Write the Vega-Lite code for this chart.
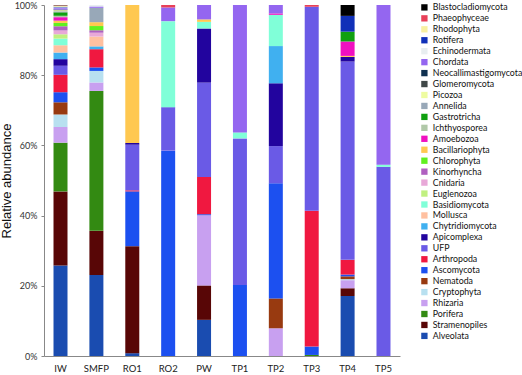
{
  "$schema": "https://vega.github.io/schema/vega-lite/v6.json",
  "autosize": {"type": "none"},
  "width": 356,
  "height": 351,
  "padding": {"left": 44, "top": 5, "right": 122, "bottom": 19},
  "background": "white",
  "datasets": {
    "taxa": [
      {"taxon": "Alveolata", "rank": 0},
      {"taxon": "Stramenopiles", "rank": 1},
      {"taxon": "Porifera", "rank": 2},
      {"taxon": "Rhizaria", "rank": 3},
      {"taxon": "Cryptophyta", "rank": 4},
      {"taxon": "Nematoda", "rank": 5},
      {"taxon": "Ascomycota", "rank": 6},
      {"taxon": "Arthropoda", "rank": 7},
      {"taxon": "UFP", "rank": 8},
      {"taxon": "Apicomplexa", "rank": 9},
      {"taxon": "Chytridiomycota", "rank": 10},
      {"taxon": "Mollusca", "rank": 11},
      {"taxon": "Basidiomycota", "rank": 12},
      {"taxon": "Euglenozoa", "rank": 13},
      {"taxon": "Cnidaria", "rank": 14},
      {"taxon": "Kinorhyncha", "rank": 15},
      {"taxon": "Chlorophyta", "rank": 16},
      {"taxon": "Bacillariophyta", "rank": 17},
      {"taxon": "Amoebozoa", "rank": 18},
      {"taxon": "Ichthyosporea", "rank": 19},
      {"taxon": "Gastrotricha", "rank": 20},
      {"taxon": "Annelida", "rank": 21},
      {"taxon": "Picozoa", "rank": 22},
      {"taxon": "Glomeromycota", "rank": 23},
      {"taxon": "Neocallimastigomycota", "rank": 24},
      {"taxon": "Chordata", "rank": 25},
      {"taxon": "Echinodermata", "rank": 26},
      {"taxon": "Rotifera", "rank": 27},
      {"taxon": "Rhodophyta", "rank": 28},
      {"taxon": "Phaeophyceae", "rank": 29},
      {"taxon": "Blastocladiomycota", "rank": 30}
    ],
    "abund": [
      {"site": "IW", "taxon": "Alveolata", "value": 26.0},
      {"site": "IW", "taxon": "Stramenopiles", "value": 21.3},
      {"site": "IW", "taxon": "Porifera", "value": 14.0},
      {"site": "IW", "taxon": "Rhizaria", "value": 4.5},
      {"site": "IW", "taxon": "Cryptophyta", "value": 3.6},
      {"site": "IW", "taxon": "Nematoda", "value": 3.5},
      {"site": "IW", "taxon": "Ascomycota", "value": 2.9},
      {"site": "IW", "taxon": "Arthropoda", "value": 5.0},
      {"site": "IW", "taxon": "UFP", "value": 2.6},
      {"site": "IW", "taxon": "Apicomplexa", "value": 1.9},
      {"site": "IW", "taxon": "Chytridiomycota", "value": 1.9},
      {"site": "IW", "taxon": "Mollusca", "value": 2.1},
      {"site": "IW", "taxon": "Basidiomycota", "value": 1.9},
      {"site": "IW", "taxon": "Euglenozoa", "value": 1.25},
      {"site": "IW", "taxon": "Cnidaria", "value": 1.1},
      {"site": "IW", "taxon": "Kinorhyncha", "value": 1.2},
      {"site": "IW", "taxon": "Chlorophyta", "value": 0.95},
      {"site": "IW", "taxon": "Bacillariophyta", "value": 0.66},
      {"site": "IW", "taxon": "Amoebozoa", "value": 1.0},
      {"site": "IW", "taxon": "Ichthyosporea", "value": 0.4},
      {"site": "IW", "taxon": "Gastrotricha", "value": 1.0},
      {"site": "IW", "taxon": "Annelida", "value": 0.3},
      {"site": "IW", "taxon": "Picozoa", "value": 0.3},
      {"site": "IW", "taxon": "Glomeromycota", "value": 0.1},
      {"site": "IW", "taxon": "Neocallimastigomycota", "value": 0.1},
      {"site": "IW", "taxon": "Chordata", "value": 0.4},
      {"site": "IW", "taxon": "Echinodermata", "value": 0.2},
      {"site": "IW", "taxon": "Rotifera", "value": 0.2},
      {"site": "IW", "taxon": "Rhodophyta", "value": 0.3},
      {"site": "IW", "taxon": "Phaeophyceae", "value": 0.1},
      {"site": "IW", "taxon": "Blastocladiomycota", "value": 0.1},
      {"site": "SMFP", "taxon": "Alveolata", "value": 23.1},
      {"site": "SMFP", "taxon": "Stramenopiles", "value": 12.6},
      {"site": "SMFP", "taxon": "Porifera", "value": 39.9},
      {"site": "SMFP", "taxon": "Rhizaria", "value": 2.4},
      {"site": "SMFP", "taxon": "Cryptophyta", "value": 3.3},
      {"site": "SMFP", "taxon": "Ascomycota", "value": 1.0},
      {"site": "SMFP", "taxon": "Arthropoda", "value": 5.2},
      {"site": "SMFP", "taxon": "Chytridiomycota", "value": 0.8},
      {"site": "SMFP", "taxon": "Mollusca", "value": 2.8},
      {"site": "SMFP", "taxon": "Cnidaria", "value": 1.1},
      {"site": "SMFP", "taxon": "Kinorhyncha", "value": 0.7},
      {"site": "SMFP", "taxon": "Chlorophyta", "value": 1.2},
      {"site": "SMFP", "taxon": "Bacillariophyta", "value": 1.1},
      {"site": "SMFP", "taxon": "Annelida", "value": 4.1},
      {"site": "SMFP", "taxon": "Echinodermata", "value": 0.5},
      {"site": "SMFP", "taxon": "Chordata", "value": 0.3},
      {"site": "RO1", "taxon": "Alveolata", "value": 0.8},
      {"site": "RO1", "taxon": "Stramenopiles", "value": 30.5},
      {"site": "RO1", "taxon": "Ascomycota", "value": 15.6},
      {"site": "RO1", "taxon": "Arthropoda", "value": 0.3},
      {"site": "RO1", "taxon": "UFP", "value": 13.0},
      {"site": "RO1", "taxon": "Apicomplexa", "value": 0.5},
      {"site": "RO1", "taxon": "Bacillariophyta", "value": 39.3},
      {"site": "RO2", "taxon": "Ascomycota", "value": 58.5},
      {"site": "RO2", "taxon": "UFP", "value": 12.4},
      {"site": "RO2", "taxon": "Basidiomycota", "value": 24.5},
      {"site": "RO2", "taxon": "Chordata", "value": 3.9},
      {"site": "RO2", "taxon": "Phaeophyceae", "value": 0.7},
      {"site": "PW", "taxon": "Alveolata", "value": 10.3},
      {"site": "PW", "taxon": "Stramenopiles", "value": 9.8},
      {"site": "PW", "taxon": "Rhizaria", "value": 20.0},
      {"site": "PW", "taxon": "Ascomycota", "value": 0.3},
      {"site": "PW", "taxon": "Arthropoda", "value": 10.6},
      {"site": "PW", "taxon": "UFP", "value": 26.9},
      {"site": "PW", "taxon": "Apicomplexa", "value": 15.4},
      {"site": "PW", "taxon": "Basidiomycota", "value": 1.9},
      {"site": "PW", "taxon": "Bacillariophyta", "value": 0.7},
      {"site": "PW", "taxon": "Chordata", "value": 4.1},
      {"site": "TP1", "taxon": "Ascomycota", "value": 20.2},
      {"site": "TP1", "taxon": "UFP", "value": 41.8},
      {"site": "TP1", "taxon": "Basidiomycota", "value": 1.7},
      {"site": "TP1", "taxon": "Chordata", "value": 36.3},
      {"site": "TP2", "taxon": "Rhizaria", "value": 7.9},
      {"site": "TP2", "taxon": "Nematoda", "value": 8.5},
      {"site": "TP2", "taxon": "Ascomycota", "value": 32.8},
      {"site": "TP2", "taxon": "UFP", "value": 10.6},
      {"site": "TP2", "taxon": "Apicomplexa", "value": 17.9},
      {"site": "TP2", "taxon": "Chytridiomycota", "value": 10.6},
      {"site": "TP2", "taxon": "Basidiomycota", "value": 8.9},
      {"site": "TP2", "taxon": "Amoebozoa", "value": 0.4},
      {"site": "TP2", "taxon": "Chordata", "value": 2.4},
      {"site": "TP3", "taxon": "Porifera", "value": 0.3},
      {"site": "TP3", "taxon": "Ascomycota", "value": 2.4},
      {"site": "TP3", "taxon": "Arthropoda", "value": 38.7},
      {"site": "TP3", "taxon": "UFP", "value": 58.1},
      {"site": "TP3", "taxon": "Phaeophyceae", "value": 0.5},
      {"site": "TP4", "taxon": "Alveolata", "value": 17.1},
      {"site": "TP4", "taxon": "Stramenopiles", "value": 2.2},
      {"site": "TP4", "taxon": "Rhizaria", "value": 2.3},
      {"site": "TP4", "taxon": "Cryptophyta", "value": 0.3},
      {"site": "TP4", "taxon": "Nematoda", "value": 0.8},
      {"site": "TP4", "taxon": "Ascomycota", "value": 0.5},
      {"site": "TP4", "taxon": "Arthropoda", "value": 4.2},
      {"site": "TP4", "taxon": "UFP", "value": 56.5},
      {"site": "TP4", "taxon": "Apicomplexa", "value": 1.3},
      {"site": "TP4", "taxon": "Bacillariophyta", "value": 0.3},
      {"site": "TP4", "taxon": "Amoebozoa", "value": 4.1},
      {"site": "TP4", "taxon": "Gastrotricha", "value": 2.8},
      {"site": "TP4", "taxon": "Rotifera", "value": 4.5},
      {"site": "TP4", "taxon": "Blastocladiomycota", "value": 3.1},
      {"site": "TP5", "taxon": "UFP", "value": 53.9},
      {"site": "TP5", "taxon": "Basidiomycota", "value": 0.6},
      {"site": "TP5", "taxon": "Chordata", "value": 45.5}
    ]
  },
  "data": {"name": "abund"},
  "transform": [
    {"lookup": "taxon", "from": {"data": {"name": "taxa"}, "key": "taxon", "fields": ["rank"]}}
  ],
  "mark": {"type": "bar"},
  "encoding": {
    "x": {
      "field": "site",
      "type": "nominal",
      "sort": ["IW", "SMFP", "RO1", "RO2", "PW", "TP1", "TP2", "TP3", "TP4", "TP5"],
      "scale": {"paddingInner": 0.61, "paddingOuter": 0.265},
      "axis": {
        "title": null,
        "labelAngle": 0,
        "ticks": false,
        "labelPadding": 7,
        "labelFont": "Lato",
        "labelFontSize": 9.5,
        "labelColor": "#222222",
        "domainColor": "#888888",
        "domainWidth": 1
      }
    },
    "y": {
      "field": "value",
      "type": "quantitative",
      "stack": "normalize",
      "scale": {"domain": [0, 1], "nice": false},
      "axis": {
        "title": "Relative abundance",
        "titleFont": "Liberation Sans",
        "titleFontSize": 13,
        "titleFontWeight": "normal",
        "titleColor": "#111111",
        "titleX": -31,
        "titleY": 175.5,
        "titleAngle": -90,
        "titleAlign": "center",
        "titleBaseline": "bottom",
        "format": ".0%",
        "values": [0, 0.2, 0.4, 0.6, 0.8, 1],
        "grid": false,
        "tickSize": 3,
        "tickColor": "#888888",
        "labelFont": "Lato",
        "labelFontSize": 9,
        "labelColor": "#333333",
        "labelPadding": 4,
        "domainColor": "#888888"
      }
    },
    "color": {
      "field": "taxon",
      "type": "nominal",
      "scale": {
        "domain": ["Blastocladiomycota", "Phaeophyceae", "Rhodophyta", "Rotifera", "Echinodermata", "Chordata", "Neocallimastigomycota", "Glomeromycota", "Picozoa", "Annelida", "Gastrotricha", "Ichthyosporea", "Amoebozoa", "Bacillariophyta", "Chlorophyta", "Kinorhyncha", "Cnidaria", "Euglenozoa", "Basidiomycota", "Mollusca", "Chytridiomycota", "Apicomplexa", "UFP", "Arthropoda", "Ascomycota", "Nematoda", "Cryptophyta", "Rhizaria", "Porifera", "Stramenopiles", "Alveolata"],
        "range": ["#000000", "#e84058", "#f8f0a0", "#1030b8", "#e8eef0", "#9466f0", "#103050", "#404848", "#eefca0", "#98a8b8", "#10a010", "#b0c8a8", "#f010c0", "#ffc850", "#60f020", "#b060c0", "#e8a8d8", "#c0f080", "#80ffd8", "#ffc0a0", "#40b0f0", "#22049e", "#6a5ae6", "#f01840", "#1c50f0", "#983a10", "#b8e0f0", "#c8a0f0", "#338a12", "#580606", "#1a4cb0"]
      },
      "legend": {
        "title": null,
        "orient": "none",
        "legendX": 376,
        "legendY": -2,
        "columns": 1,
        "symbolLimit": 40,
        "symbolType": "square",
        "symbolSize": 40,
        "symbolStrokeWidth": 0,
        "labelFont": "Lato",
        "labelFontSize": 8.8,
        "labelColor": "#111111",
        "labelOffset": 4,
        "rowPadding": 0.95,
        "padding": 0,
        "labelLimit": 200
      }
    },
    "order": {"field": "rank", "type": "quantitative", "sort": "ascending"}
  },
  "config": {
    "view": {"stroke": null}
  }
}
